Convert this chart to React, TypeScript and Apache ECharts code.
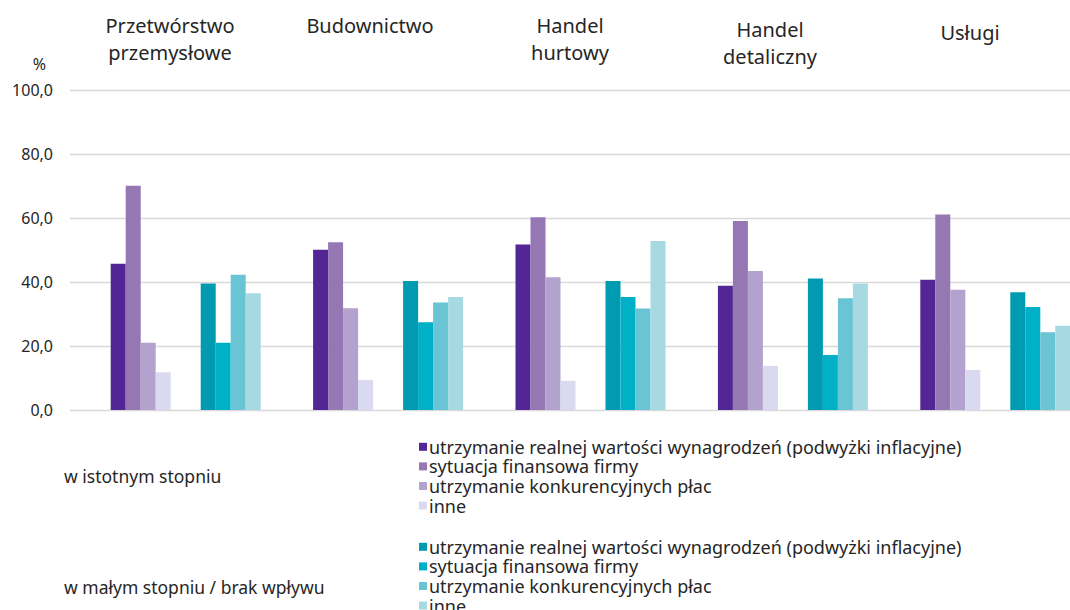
import React, { useEffect, useRef } from "react";
import * as echarts from "echarts";

const sectors = ["Przetwórstwo\nprzemysłowe", "Budownictwo", "Handel\nhurtowy", "Handel\ndetaliczny", "Usługi"];
const sectorLabelLift = [5, 32, 5, 1, 25];

const seriesNames = [
  "utrzymanie realnej wartości wynagrodzeń (podwyżki inflacyjne)",
  "sytuacja finansowa firmy",
  "utrzymanie konkurencyjnych płac",
  "inne",
];

// w istotnym stopniu
const sigRealWage = [45.7, 50.1, 51.7, 38.8, 40.7];
const sigFinance = [70.1, 52.4, 60.2, 59.1, 61.1];
const sigCompetitive = [21.0, 31.8, 41.5, 43.4, 37.6];
const sigOther = [11.8, 9.4, 9.1, 13.8, 12.5];

// w małym stopniu / brak wpływu
const lowRealWage = [39.5, 40.3, 40.3, 41.1, 36.8];
const lowFinance = [21.0, 27.4, 35.3, 17.2, 32.2];
const lowCompetitive = [42.3, 33.6, 31.7, 34.9, 24.3];
const lowOther = [36.5, 35.3, 52.8, 39.5, 26.3];

const groupLabels = ["w istotnym stopniu", "w małym stopniu / brak wpływu"];
const yTicks = [0, 20, 40, 60, 80, 100];

const purple = ["#542594", "#9577b3", "#b3a1ce", "#d9daef"];
const teal = ["#009bb1", "#00b0c7", "#69c4d4", "#a7d9e2"];

const FONT = "Noto Sans";
const TXT = "#262626";

export default function App() {
  const ref = useRef<HTMLDivElement>(null);
  useEffect(() => {
    if (!ref.current) return;
    const chart = echarts.init(ref.current, undefined, { renderer: "svg" });
    const sig = [sigRealWage, sigFinance, sigCompetitive, sigOther];
    const low = [lowRealWage, lowFinance, lowCompetitive, lowOther];
    const lowNames = seriesNames.map((n) => n + " ");
    const bar = (name: string, data: number[], color: string) => ({
      type: "bar",
      name,
      data,
      xAxisIndex: 1,
      yAxisIndex: 1,
      barWidth: 15,
      barGap: "0%",
      itemStyle: { color },
      silent: true,
    });
    const series: any[] = [
      ...sig.map((d, i) => bar(seriesNames[i], d, purple[i])),
      {
        type: "bar",
        name: "spacer",
        data: sectors.map(() => null),
        xAxisIndex: 1,
        yAxisIndex: 1,
        barWidth: 30,
        barGap: "0%",
        itemStyle: { color: "transparent" },
        silent: true,
      },
      ...low.map((d, i) => bar(lowNames[i], d, teal[i])),
    ];
    const legendCommon = {
      orient: "vertical",
      left: 414,
      icon: "rect",
      itemWidth: 8,
      itemHeight: 8,
      itemGap: 0,
      height: 150,
      selectedMode: false,
      formatter: (n: string) => n.trim(),
      textStyle: { fontFamily: FONT, fontSize: 18, color: TXT, lineHeight: 19.6, padding: [0, 0, 0, -3] },
    };
    chart.setOption({
      animation: false,
      textStyle: { fontFamily: FONT },
      grid: [
        { left: 70, top: 90, width: 1000, height: 320, outerBoundsMode: "none", containLabel: false },
        { left: 84.5, top: 90, width: 1012, height: 320, outerBoundsMode: "none", containLabel: false },
      ],
      xAxis: [
        {
          gridIndex: 0,
          type: "category",
          position: "top",
          data: sectors.map((s, i) => ({
            value: s,
            textStyle: { padding: [0, 0, sectorLabelLift[i], 0] },
          })),
          axisLine: { show: false },
          axisTick: { show: false },
          axisLabel: {
            fontFamily: FONT,
            fontSize: 20,
            color: TXT,
            lineHeight: 27,
            margin: 19.5,
            interval: 0,
          },
        },
        { gridIndex: 1, type: "category", data: sectors, show: false },
      ],
      yAxis: [
        {
          gridIndex: 0,
          type: "value",
          min: yTicks[0],
          max: yTicks[yTicks.length - 1],
          interval: 20,
          name: "%",
          nameGap: 18,
          nameTextStyle: { fontFamily: FONT, fontSize: 16, color: TXT, align: "right", padding: [0, 24, 0, 0] },
          axisLine: { show: false },
          axisTick: { show: false },
          axisLabel: {
            fontFamily: FONT,
            fontSize: 16,
            color: TXT,
            margin: 17,
            formatter: (v: number) => v.toFixed(1).replace(".", ","),
          },
          splitLine: { lineStyle: { color: "#d9d9d9", width: 1.3 } },
        },
        { gridIndex: 1, type: "value", min: 0, max: 100, show: false },
      ],
      legend: [
        { ...legendCommon, top: 432, data: seriesNames },
        { ...legendCommon, top: 532, data: lowNames },
      ],
      graphic: [
        {
          type: "text",
          left: 64,
          top: 467,
          style: { text: groupLabels[0], fontFamily: FONT, fontSize: 17.5, fill: TXT },
        },
        {
          type: "text",
          left: 64,
          top: 578,
          style: { text: groupLabels[1], fontFamily: FONT, fontSize: 17.5, fill: TXT },
        },
      ],
      series,
    });
    return () => chart.dispose();
  }, []);
  return (
    <div
      ref={ref}
      style={{ position: "absolute", left: 0, top: 0, width: 1070, height: 610, background: "#fff" }}
    />
  );
}
